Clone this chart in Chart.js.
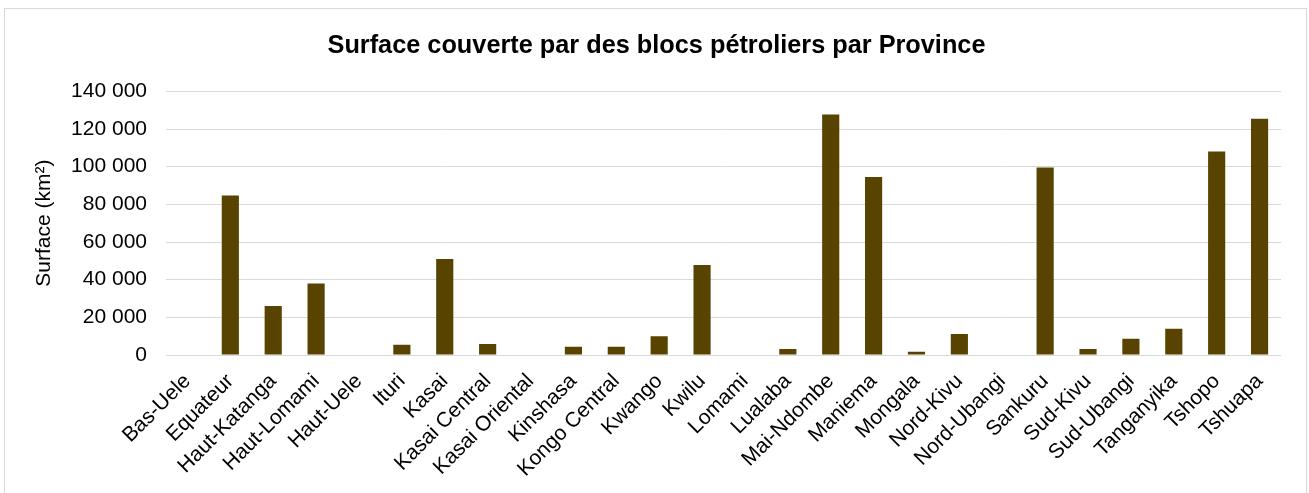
<!DOCTYPE html>
<html>
<head>
<meta charset="utf-8">
<script src="https://cdn.jsdelivr.net/npm/chart.js@4/dist/chart.umd.min.js"></script>
<style>
  html, body { margin: 0; padding: 0; background: #fff; }
  #wrap { position: relative; width: 1309px; height: 493px; }
  #frame { position: absolute; left: 4px; top: 8px; width: 1303px; height: 500px; border: 1px solid #d9d9d9; box-sizing: border-box; pointer-events: none; }
  canvas { position: absolute; left: 0; top: 0; }
</style>
</head>
<body>
<div id="wrap">
  <canvas id="c" width="1309" height="493"></canvas>
  <div id="frame"></div>
</div>
<script>
const provinces = ["Bas-Uele","Equateur","Haut-Katanga","Haut-Lomami","Haut-Uele","Ituri","Kasai","Kasai Central","Kasai Oriental","Kinshasa","Kongo Central","Kwango","Kwilu","Lomami","Lualaba","Mai-Ndombe","Maniema","Mongala","Nord-Kivu","Nord-Ubangi","Sankuru","Sud-Kivu","Sud-Ubangi","Tanganyika","Tshopo","Tshuapa"];
const surfaces = [0,84700,26000,38000,0,5500,51000,5800,0,4400,4400,10000,47800,0,3200,127700,94500,1750,11100,0,99600,3200,8600,13900,108100,125400];
const yTicks = [0,20000,40000,60000,80000,100000,120000,140000];
const chartTitle = "Surface couverte par des blocs pétroliers par Province";
const yTitle = "Surface (km²)";

const FONT = "'Liberation Sans', Arial, sans-serif";
const fmt = v => String(v).replace(/\B(?=(\d{3})+(?!\d))/g, ' ');

new Chart(document.getElementById('c'), {
  type: 'bar',
  data: {
    labels: provinces,
    datasets: [{
      data: surfaces,
      backgroundColor: '#584400',
      borderWidth: 0,
      barPercentage: 0.4,
      categoryPercentage: 1.0
    }]
  },
  options: {
    responsive: false,
    animation: false,
    layout: { padding: { left: 32, right: 28, top: 0, bottom: 0 } },
    plugins: {
      legend: { display: false },
      tooltip: { enabled: false },
      title: {
        display: true,
        text: chartTitle,
        color: '#000',
        font: { family: FONT, size: 25.3, weight: 'bold' },
        padding: { top: 31, bottom: 30 }
      }
    },
    scales: {
      x: {
        grid: { display: false },
        border: { display: false },
        ticks: {
          color: '#000',
          font: { family: FONT, size: 21 },
          minRotation: 45, maxRotation: 45,
          autoSkip: false,
          padding: 6
        },
        afterFit: s => { s.height = 138; }
      },
      y: {
        min: 0, max: 140000,
        afterBuildTicks: s => { s.ticks = yTicks.map(v => ({ value: v })); },
        grid: { color: '#d9d9d9', lineWidth: 1, drawTicks: false },
        border: { display: false },
        ticks: {
          color: '#000',
          font: { family: FONT, size: 21 },
          padding: 19,
          callback: v => fmt(v)
        },
        title: {
          display: true,
          text: yTitle,
          color: '#000',
          font: { family: FONT, size: 21 },
          padding: { top: 0, bottom: 0 }
        },
        afterFit: s => { s.width = 134; }
      }
    }
  }
});
</script>
</body>
</html>
